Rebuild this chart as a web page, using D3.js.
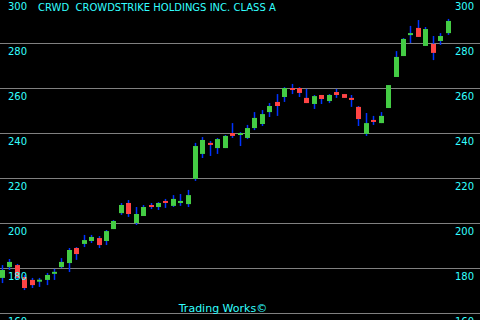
<!DOCTYPE html>
<html>
<head>
<meta charset="utf-8">
<script src="https://cdn.jsdelivr.net/npm/d3@7"></script>
<style>
  html, body { margin: 0; padding: 0; background: #000; }
  svg { display: block; }
</style>
</head>
<body>
<div id="chart"></div>
<script>
// daily OHLC, oldest first
const opens = [
  175.6, 180.4, 181.3, 176.0, 174.7, 174.6, 174.7, 178.0, 180.4, 182.2,
  188.9, 190.7, 192.0, 193.3, 192.0, 197.3, 204.4, 208.9, 200.0, 203.1,
  208.0, 207.1, 209.8, 207.6, 208.9, 208.4, 219.6, 230.7, 235.6, 233.3,
  233.3, 240.0, 239.1, 237.8, 242.2, 244.0, 249.3, 253.8, 256.0, 260.0,
  260.0, 255.6, 252.9, 256.9, 254.2, 258.2, 257.3, 255.6, 251.6, 239.6,
  245.8, 244.4, 251.1, 264.9, 274.2, 283.6, 286.7, 278.7, 279.6, 280.9,
  284.4
];
const highs = [
  181.3, 184.0, 181.8, 176.9, 175.6, 175.6, 177.8, 179.6, 184.4, 188.9,
  189.3, 194.7, 194.7, 194.2, 196.9, 201.3, 208.9, 210.2, 207.1, 208.0,
  208.9, 209.3, 210.7, 212.4, 212.9, 214.7, 235.6, 238.2, 236.4, 237.8,
  239.1, 244.4, 240.4, 243.6, 249.3, 250.2, 253.3, 257.3, 260.4, 261.8,
  260.4, 259.6, 256.9, 256.9, 257.3, 259.6, 257.3, 256.9, 252.0, 248.9,
  247.6, 249.3, 261.3, 276.4, 282.2, 287.6, 290.2, 287.1, 283.1, 284.4,
  290.7
];
const lows = [
  173.3, 179.1, 175.1, 170.2, 171.1, 171.6, 172.4, 174.7, 180.0, 178.2,
  183.6, 189.3, 191.1, 188.9, 190.2, 197.3, 203.6, 202.7, 199.1, 203.1,
  206.2, 205.8, 206.7, 207.1, 207.6, 207.1, 218.7, 228.9, 229.8, 230.7,
  233.3, 237.8, 234.2, 237.3, 241.3, 243.1, 247.1, 247.6, 253.8, 257.3,
  256.0, 253.3, 250.7, 252.9, 253.3, 255.6, 255.6, 251.6, 243.1, 238.7,
  243.6, 244.4, 251.1, 264.9, 274.2, 280.0, 282.7, 278.7, 272.4, 279.1,
  283.6
];
const closes = [
  179.1, 182.7, 175.6, 171.1, 172.4, 174.8, 176.9, 178.3, 182.7, 188.0,
  186.2, 192.4, 193.8, 190.2, 196.4, 200.9, 208.0, 204.0, 204.0, 207.1,
  207.1, 208.9, 208.9, 210.7, 209.8, 212.4, 234.2, 236.9, 234.7, 237.3,
  238.7, 238.7, 240.0, 242.2, 246.7, 248.4, 252.0, 252.0, 260.0, 259.1,
  257.8, 253.3, 256.4, 255.1, 256.9, 256.9, 255.6, 254.7, 246.2, 244.4,
  244.9, 247.6, 261.3, 273.8, 281.8, 284.4, 282.7, 286.2, 275.6, 283.1,
  289.8
];
const priceTicks = [160, 180, 200, 220, 240, 260, 280, 300];
const symbol = "CRWD";
const companyName = "CROWDSTRIKE HOLDINGS INC. CLASS A";
const footer = "Trading Works©";

const width = 480, height = 320;
const font = "'DejaVu Sans', sans-serif";
const cyan = "#33ffff";

const svg = d3.select("#chart").append("svg")
  .attr("width", width)
  .attr("height", height);

svg.append("rect")
  .attr("width", width)
  .attr("height", height)
  .attr("fill", "#000");

const y = d3.scaleLinear().domain([160, 300]).range([313, -2]);
const x = d3.scaleLinear().domain([0, opens.length - 1]).range([2, 447.5]);
const bodyW = 5;

// grid lines
svg.append("g")
  .selectAll("line")
  .data(priceTicks)
  .join("line")
  .attr("x1", 0)
  .attr("x2", width)
  .attr("y1", (d) => Math.round(y(d)) + 0.5)
  .attr("y2", (d) => Math.round(y(d)) + 0.5)
  .attr("stroke", "#808080")
  .attr("stroke-width", 1);

const candles = svg.append("g")
  .selectAll("g")
  .data(d3.range(opens.length))
  .join("g");

candles.append("line")
  .attr("x1", (i) => Math.round(x(i)) + 0.5)
  .attr("x2", (i) => Math.round(x(i)) + 0.5)
  .attr("y1", (i) => y(highs[i]))
  .attr("y2", (i) => y(lows[i]))
  .attr("stroke", "#0033ff")
  .attr("stroke-width", 1.5);

candles.append("rect")
  .attr("x", (i) => Math.round(x(i)) - 2)
  .attr("width", bodyW)
  .attr("y", (i) => y(Math.max(opens[i], closes[i])))
  .attr("height", (i) => Math.max(2, Math.abs(y(opens[i]) - y(closes[i]))))
  .attr("fill", (i) => (closes[i] >= opens[i] ? "#44cc44" : "#ff4444"));

// price labels on both sides, just under each line
const labels = svg.append("g")
  .attr("font-family", font)
  .attr("font-size", "10px")
  .attr("fill", cyan);

labels.selectAll("text.left")
  .data(priceTicks)
  .join("text")
  .attr("class", "left")
  .attr("x", 8)
  .attr("y", (d) => y(d) + 12)
  .text((d) => d);

labels.selectAll("text.right")
  .data(priceTicks)
  .join("text")
  .attr("class", "right")
  .attr("x", 474)
  .attr("y", (d) => y(d) + 12)
  .attr("text-anchor", "end")
  .text((d) => d);

svg.append("text")
  .attr("x", 38)
  .attr("y", 11)
  .attr("font-family", font)
  .attr("font-size", "10px")
  .attr("fill", cyan)
  .attr("xml:space", "preserve")
  .text(symbol + "  " + companyName);

svg.append("text")
  .attr("x", 223)
  .attr("y", 312)
  .attr("text-anchor", "middle")
  .attr("font-family", font)
  .attr("font-size", "11px")
  .attr("fill", cyan)
  .text(footer);
</script>
</body>
</html>
